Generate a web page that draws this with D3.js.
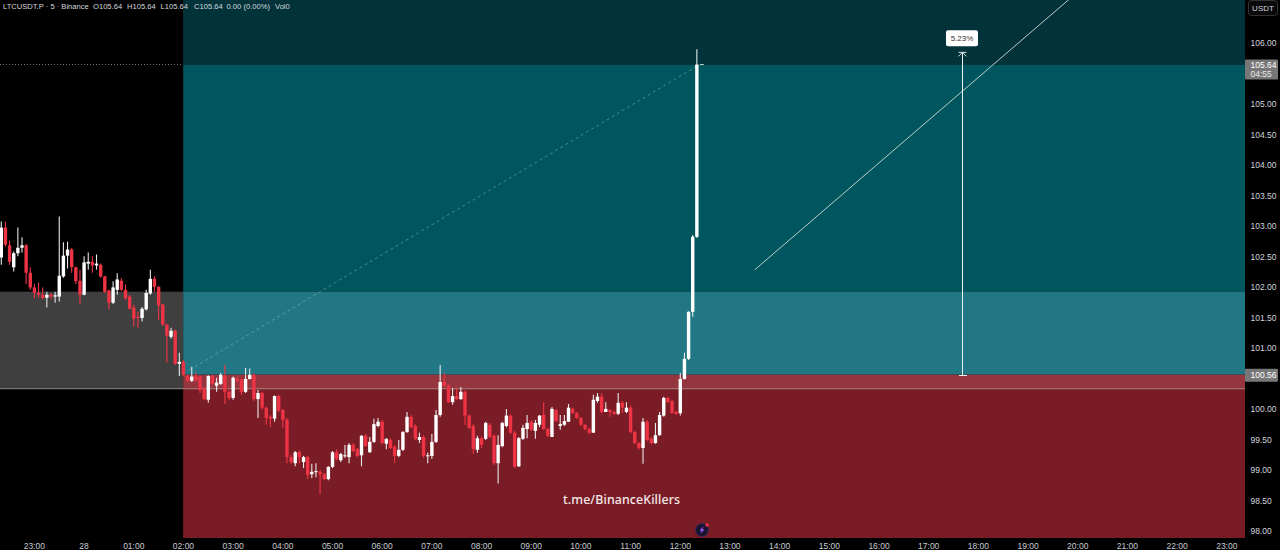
<!DOCTYPE html>
<html><head><meta charset="utf-8">
<script src="https://cdn.jsdelivr.net/npm/d3@7/dist/d3.min.js"></script>
<style>html,body{margin:0;padding:0;background:#000;overflow:hidden}svg{display:block}text{font-family:"Liberation Sans",Arial,sans-serif}</style>
</head><body><svg id="c" width="1280" height="550"></svg>
<script>
const opens=[102.48,102.97,102.68,102.32,102.55,102.64,102.68,102.23,101.99,101.90,
101.87,101.82,101.87,101.84,101.84,102.17,102.51,102.61,102.32,102.10,
101.87,102.38,102.41,102.35,102.36,102.17,101.94,101.74,101.95,102.10,
101.95,101.84,101.66,101.51,101.49,101.63,101.89,102.13,102.00,101.71,
101.38,101.18,101.28,100.74,100.77,100.54,100.46,100.54,100.53,100.33,
100.15,100.54,100.38,100.41,100.54,100.28,100.18,100.49,100.48,100.28,
100.49,100.56,100.16,100.26,100.02,99.87,99.84,100.21,99.98,99.82,
99.21,99.11,99.29,99.13,99.21,98.93,98.97,98.97,98.93,98.85,
99.05,99.29,99.16,99.23,99.21,99.41,99.34,99.24,99.56,99.29,
99.46,99.72,99.79,99.43,99.49,99.38,99.23,99.33,99.62,99.87,
99.72,99.49,99.54,99.23,99.23,99.46,99.90,100.44,100.38,100.11,
100.21,100.16,100.28,99.89,99.72,99.33,99.52,99.51,99.74,99.56,
99.11,99.39,99.72,99.89,99.61,99.06,99.51,99.67,99.79,99.64,
99.74,99.90,99.67,99.54,99.98,99.72,99.74,99.79,100.00,99.93,
99.85,99.74,99.67,99.61,100.13,100.20,99.95,99.98,99.95,99.92,
100.10,99.95,100.02,99.62,99.44,99.36,99.79,99.51,99.44,99.57,
99.89,100.18,100.13,99.95,99.93,100.49,100.82,101.59,102.82];
const highs=[103.07,103.07,102.76,102.58,102.97,102.81,102.70,102.32,102.05,102.07,
101.99,101.92,101.90,101.92,103.15,102.73,102.74,102.63,102.33,102.28,
102.50,102.56,102.50,102.53,102.38,102.18,101.95,102.09,102.22,102.14,
102.04,101.87,101.71,101.59,101.67,101.95,102.28,102.17,102.01,101.72,
101.40,101.33,101.30,100.92,100.80,100.56,100.69,100.60,100.54,100.36,
100.55,100.56,100.51,100.59,100.72,100.31,100.53,100.53,100.50,100.67,
100.66,100.58,100.31,100.28,100.04,99.90,100.22,100.23,100.00,99.85,
99.25,99.31,99.32,99.23,99.23,99.10,99.11,99.00,98.95,99.06,
99.31,99.34,99.28,99.41,99.44,99.44,99.36,99.57,99.59,99.54,
99.84,99.85,99.82,99.52,99.52,99.40,99.49,99.64,99.95,99.90,
99.75,99.61,99.57,99.28,99.59,99.98,100.72,100.59,100.40,100.34,
100.34,100.36,100.30,99.91,99.75,99.56,99.55,99.79,99.77,99.58,
99.57,99.79,100.00,99.91,99.64,99.54,99.74,99.90,99.82,99.82,
99.90,100.11,99.69,100.03,100.00,99.90,99.90,100.08,100.02,99.95,
99.87,99.75,99.69,100.23,100.26,100.26,100.11,100.00,99.97,100.26,
100.13,100.11,100.05,99.64,99.46,99.85,99.82,99.54,99.77,99.95,
100.20,100.20,100.15,99.97,100.59,100.92,101.60,102.85,105.89];
const lows=[102.36,102.66,102.36,102.25,102.50,102.56,102.04,101.95,101.81,101.82,
101.79,101.66,101.79,101.74,101.76,102.15,102.30,102.23,102.04,101.71,
101.86,102.28,102.23,102.28,102.15,101.90,101.63,101.72,101.87,101.93,
101.79,101.63,101.35,101.33,101.43,101.61,101.87,101.92,101.46,101.36,
100.76,101.15,100.72,100.54,100.54,100.44,100.44,100.44,100.26,100.14,
100.10,100.40,100.28,100.39,100.08,100.15,100.15,100.44,100.23,100.26,
100.48,100.13,99.85,99.99,99.74,99.70,99.79,99.95,99.69,99.11,
99.10,99.06,99.11,99.03,98.85,98.87,98.88,98.60,98.83,98.83,
99.03,99.16,99.13,99.20,99.11,99.29,99.21,99.06,99.38,99.28,
99.44,99.70,99.42,99.34,99.34,99.11,99.21,99.31,99.61,99.69,
99.49,99.44,99.20,99.11,99.18,99.44,99.87,100.36,100.10,100.07,
100.15,100.15,99.74,99.67,99.26,99.28,99.36,99.49,99.52,99.08,
98.78,99.37,99.70,99.59,99.03,99.05,99.49,99.52,99.64,99.51,
99.70,99.66,99.54,99.54,99.79,99.66,99.72,99.79,99.92,99.84,
99.72,99.65,99.59,99.61,100.10,99.93,99.95,99.87,99.90,99.90,
99.93,99.93,99.60,99.42,99.33,99.10,99.47,99.42,99.43,99.56,
99.87,100.10,99.92,99.90,99.89,100.48,100.80,101.51,102.80];
const closes=[102.97,102.69,102.41,102.55,102.64,102.68,102.23,101.99,101.90,101.87,
101.82,101.87,101.84,101.86,102.18,102.51,102.61,102.32,102.09,101.87,
102.40,102.41,102.35,102.38,102.17,101.92,101.74,101.99,102.12,101.95,
101.81,101.64,101.48,101.49,101.64,101.90,102.13,102.00,101.69,101.38,
101.20,101.28,100.74,100.77,100.56,100.46,100.53,100.47,100.31,100.16,
100.54,100.41,100.43,100.56,100.28,100.18,100.51,100.46,100.28,100.49,
100.56,100.16,100.26,100.02,99.85,99.84,100.21,99.97,99.82,99.21,
99.13,99.29,99.21,99.21,98.92,98.97,98.98,98.93,98.85,99.05,
99.29,99.18,99.26,99.24,99.41,99.31,99.23,99.56,99.39,99.46,
99.75,99.79,99.44,99.51,99.36,99.23,99.33,99.62,99.87,99.70,
99.51,99.54,99.23,99.24,99.46,99.90,100.44,100.38,100.11,100.21,
100.16,100.28,99.89,99.69,99.34,99.52,99.41,99.77,99.54,99.11,
99.41,99.77,99.89,99.61,99.05,99.52,99.69,99.77,99.66,99.77,
99.89,99.67,99.56,100.00,99.80,99.75,99.80,100.02,99.93,99.85,
99.74,99.67,99.61,100.15,100.20,99.95,100.00,99.95,99.92,100.10,
100.02,100.02,99.62,99.44,99.36,99.79,99.49,99.44,99.57,99.90,
100.18,100.11,99.93,99.92,100.49,100.82,101.59,102.82,105.64];

const priceTicks=[98,98.5,99,99.5,100,101,101.5,102,102.5,103,103.5,104,104.5,105,106];
const timeTickLabels=["23:00","28","01:00","02:00","03:00","04:00","05:00","06:00","07:00","08:00","09:00","10:00","11:00","12:00","13:00","14:00","15:00","16:00","17:00","18:00","19:00","20:00","21:00","22:00","23:00"];
const timeTickBars=timeTickLabels.map((_,k)=>8+12*k);

const lastPrice=105.64, entryPrice=100.56, supportPrice=100.33, midPrice=101.92, measureTop=105.84, startBar=44, endBar=296;
const measureBar=232.1, trendBars=[182,258.1], trendPrices=[102.28,106.72];
const fibBars=[45.5,168.6], fibPrices=[100.64,105.64];
const zones=[
 {from:106.72,to:lastPrice,color:"#02333b"},
 {from:lastPrice,to:midPrice,color:"#00565f"},
 {from:midPrice,to:entryPrice,color:"#217884"},
 {from:entryPrice,to:supportPrice,color:"#95363f"},
 {from:supportPrice,to:97.88,color:"#7a1c25"}];

const svg=d3.select("#c");
const x=d3.scaleLinear().domain([0,endBar]).range([1.3,1226.8]);
const y=d3.scaleLinear().domain([98,106]).range([531,42.6]);
const plotR=1245, plotB=538;

svg.append("rect").attr("width",1280).attr("height",550).attr("fill","#000");
const plot=svg.append("g");
svg.append("defs").append("clipPath").attr("id","pc").append("rect").attr("width",plotR).attr("height",plotB);
plot.attr("clip-path","url(#pc)");

// left grey band
plot.append("rect").attr("x",0).attr("width",x(startBar)-0.3).attr("y",y(midPrice)).attr("height",y(supportPrice)-y(midPrice)).attr("fill","#3f3f3f");
plot.selectAll("rect.z").data(zones).join("rect").attr("class","z")
 .attr("x",x(startBar)-0.3).attr("width",plotR-x(startBar)+0.3)
 .attr("y",d=>y(d.from)).attr("height",d=>y(d.to)-y(d.from)).attr("fill",d=>d.color);

// reference lines
plot.append("line").attr("x1",0).attr("x2",plotR).attr("y1",y(supportPrice)).attr("y2",y(supportPrice)).attr("stroke","#d8c8c8").attr("stroke-opacity",.6).attr("stroke-width",1);
plot.append("line").attr("x1",0).attr("x2",x(startBar)).attr("y1",y(lastPrice)).attr("y2",y(lastPrice)).attr("stroke","#6f6f6f").attr("stroke-width",1).attr("stroke-dasharray","1 2").attr("shape-rendering","crispEdges");
plot.append("line").attr("x1",x(fibBars[0])).attr("y1",y(fibPrices[0])).attr("x2",x(fibBars[1])).attr("y2",y(fibPrices[1])).attr("stroke","#b9c9c9").attr("stroke-opacity",.42).attr("stroke-width",1).attr("stroke-dasharray","3 3");
plot.append("line").attr("x1",x(trendBars[0])).attr("y1",y(trendPrices[0])).attr("x2",x(trendBars[1])).attr("y2",y(trendPrices[1])).attr("stroke","#cfdcd4").attr("stroke-opacity",.9).attr("stroke-width",1);

// candles
const idx=d3.range(opens.length);
const g=plot.append("g");
g.selectAll("line.w").data(idx).join("line").attr("class","w")
 .attr("x1",i=>x(i)).attr("x2",i=>x(i))
 .attr("y1",i=>y(highs[i])).attr("y2",i=>y(lows[i]))
 .attr("stroke",i=>closes[i]>=opens[i]?"#e6e9e9":"#f23645").attr("stroke-width",1.1);
g.selectAll("rect.b").data(idx).join("rect").attr("class","b")
 .attr("x",i=>x(i)-1.7).attr("width",3.4)
 .attr("y",i=>y(Math.max(opens[i],closes[i])))
 .attr("height",i=>Math.max(1,Math.abs(y(opens[i])-y(closes[i]))))
 .attr("fill",i=>closes[i]>=opens[i]?"#ffffff":"#ee3345");

// measure tool
const mx=Math.floor(x(measureBar))+.5;
const my0=y(entryPrice), my1=y(measureTop);
plot.append("line").attr("x1",mx).attr("x2",mx).attr("y1",my0).attr("y2",my1).attr("stroke","#e8f2f2").attr("shape-rendering","crispEdges");
plot.append("line").attr("x1",mx-4).attr("x2",mx+4).attr("y1",Math.round(my0)+.5).attr("y2",Math.round(my0)+.5).attr("stroke","#e8f2f2").attr("shape-rendering","crispEdges");
plot.append("path").attr("d",`M${mx-4},${my1+4}L${mx},${my1}L${mx+4},${my1+4}M${mx-4},${my1}L${mx+4},${my1}`).attr("fill","none").attr("stroke","#e8f2f2").attr("stroke-width",.9);
plot.append("rect").attr("x",mx-16.5).attr("y",my1-22).attr("width",32).attr("height",16).attr("rx",2).attr("fill","#fff");
plot.append("text").attr("x",mx-.5).attr("y",my1-11).attr("text-anchor","middle").attr("font-size",8).attr("fill","#333").text("5.23%");

// last candle marker
plot.append("line").attr("x1",x(168)+3).attr("x2",x(168)+7).attr("y1",y(lastPrice)).attr("y2",y(lastPrice)).attr("stroke","#c8d8d8");

// watermark & badge
plot.append("text").attr("x",563).attr("y",504).attr("font-size",12.4).attr("font-weight",500).attr("letter-spacing",.1).attr("fill","#f3e8e8").style("font-family","'Noto Sans',sans-serif").text("t.me/BinanceKillers");
const badge=plot.append("g").attr("transform","translate(702,530)");
badge.append("circle").attr("r",6.5).attr("fill","#1a1330").attr("stroke","#3a2a5a");
badge.append("path").attr("d","M1.5,-4L-2.5,0.8H-0.3L-1.5,4L2.5,-0.8H0.3Z").attr("fill","#9a5cf0");
badge.append("circle").attr("cx",5).attr("cy",-5).attr("r",1.7).attr("fill","#f23645");

// price axis
const axY=svg.append("g").attr("transform","translate(1250.5,0.2)").call(d3.axisRight(y).tickValues(priceTicks).tickSize(0).tickPadding(0).tickFormat(d3.format(".2f")));
axY.select(".domain").remove();
axY.selectAll("text").attr("font-size",8.5).attr("fill","#d1d4dc").style("font-family","'Liberation Sans',sans-serif");

// time axis
const timeG=svg.append("g").attr("transform",`translate(0,${plotB})`);
timeTickBars.forEach((b,k)=>{timeG.append("text").attr("x",x(b)).attr("y",10.5).attr("text-anchor","middle").attr("font-size",8.5).attr("fill","#c9ccd4").text(timeTickLabels[k]);});

// price tags
svg.append("rect").attr("x",1245).attr("y",y(lastPrice)-5).attr("width",33).attr("height",20).attr("rx",1).attr("fill","#777");
svg.append("text").attr("x",1250.5).attr("y",y(lastPrice)+3).attr("font-size",8.5).attr("fill","#fff").text(d3.format(".2f")(lastPrice));
svg.append("text").attr("x",1250.5).attr("y",y(lastPrice)+12).attr("font-size",8.5).attr("fill","#e8e8e8").text("04:55");
svg.append("rect").attr("x",1245).attr("y",y(entryPrice)-6).attr("width",33).attr("height",13).attr("rx",1).attr("fill","#777");
svg.append("text").attr("x",1250.5).attr("y",y(entryPrice)+3.5).attr("font-size",8.5).attr("fill","#fff").text(d3.format(".2f")(entryPrice));

// USDT button
svg.append("rect").attr("x",1248.5).attr("y",0.5).attr("width",29).attr("height",15).attr("rx",3).attr("fill","#0a0a0a").attr("stroke","#333");
svg.append("text").attr("x",1263).attr("y",11).attr("text-anchor","middle").attr("font-size",8).attr("fill","#d1d4dc").text("USDT");

// header
const header=[[3,"LTCUSDT.P · 5 · Binance"],[93,"O105.64"],[127,"H105.64"],[160.5,"L105.64"],[194,"C105.64"],[226.5,"0.00 (0.00%)"],[275,"Vol0"]];
svg.selectAll("text.h").data(header).join("text").attr("class","h").attr("x",d=>d[0]).attr("y",9).attr("font-size",7.6).attr("fill","#d5d8de").text(d=>d[1]);
</script></body></html>
